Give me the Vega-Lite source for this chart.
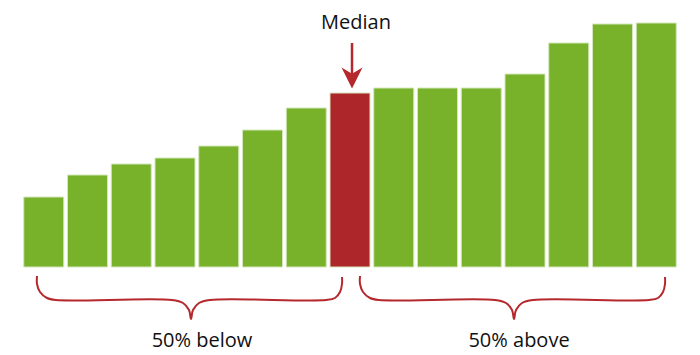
{
  "$schema": "https://vega.github.io/schema/vega-lite/v6.json",
  "width": 700,
  "height": 355,
  "padding": 0,
  "autosize": {"type": "none"},
  "background": "white",
  "config": {"view": {"stroke": null}},
  "datasets": {
    "bars": [
      {"i": 1, "v": 70, "kind": "other"},
      {"i": 2, "v": 92, "kind": "other"},
      {"i": 3, "v": 103, "kind": "other"},
      {"i": 4, "v": 109, "kind": "other"},
      {"i": 5, "v": 121, "kind": "other"},
      {"i": 6, "v": 137, "kind": "other"},
      {"i": 7, "v": 159, "kind": "other"},
      {"i": 8, "v": 174, "kind": "median"},
      {"i": 9, "v": 179, "kind": "other"},
      {"i": 10, "v": 179, "kind": "other"},
      {"i": 11, "v": 179, "kind": "other"},
      {"i": 12, "v": 193, "kind": "other"},
      {"i": 13, "v": 224, "kind": "other"},
      {"i": 14, "v": 243, "kind": "other"},
      {"i": 15, "v": 244, "kind": "other"}
    ],
    "braces": [
      {"b": "below", "o": 1, "x": 0.846, "y": -9},
      {"b": "below", "o": 2, "x": 0.846, "y": -17},
      {"b": "below", "o": 3, "x": 0.914, "y": -25},
      {"b": "below", "o": 4, "x": 1.074, "y": -31},
      {"b": "below", "o": 5, "x": 1.28, "y": -33},
      {"b": "below", "o": 6, "x": 3.931, "y": -33},
      {"b": "below", "o": 7, "x": 4.183, "y": -36},
      {"b": "below", "o": 8, "x": 4.32, "y": -43},
      {"b": "below", "o": 9, "x": 4.366, "y": -52},
      {"b": "below", "o": 10, "x": 4.411, "y": -43},
      {"b": "below", "o": 11, "x": 4.549, "y": -36},
      {"b": "below", "o": 12, "x": 4.8, "y": -33},
      {"b": "below", "o": 13, "x": 7.451, "y": -33},
      {"b": "below", "o": 14, "x": 7.657, "y": -31},
      {"b": "below", "o": 15, "x": 7.771, "y": -25},
      {"b": "below", "o": 16, "x": 7.817, "y": -17},
      {"b": "below", "o": 17, "x": 7.817, "y": -10},
      {"b": "above", "o": 1, "x": 8.229, "y": -9},
      {"b": "above", "o": 2, "x": 8.229, "y": -17},
      {"b": "above", "o": 3, "x": 8.297, "y": -25},
      {"b": "above", "o": 4, "x": 8.457, "y": -31},
      {"b": "above", "o": 5, "x": 8.663, "y": -33},
      {"b": "above", "o": 6, "x": 11.314, "y": -33},
      {"b": "above", "o": 7, "x": 11.566, "y": -36},
      {"b": "above", "o": 8, "x": 11.703, "y": -43},
      {"b": "above", "o": 9, "x": 11.749, "y": -52},
      {"b": "above", "o": 10, "x": 11.794, "y": -43},
      {"b": "above", "o": 11, "x": 11.931, "y": -36},
      {"b": "above", "o": 12, "x": 12.183, "y": -33},
      {"b": "above", "o": 13, "x": 14.834, "y": -33},
      {"b": "above", "o": 14, "x": 15.04, "y": -31},
      {"b": "above", "o": 15, "x": 15.154, "y": -25},
      {"b": "above", "o": 16, "x": 15.2, "y": -17},
      {"b": "above", "o": 17, "x": 15.2, "y": -10}
    ],
    "labels": [
      {"x": 4.617, "y": -80, "t": "50% below"},
      {"x": 11.863, "y": -80, "t": "50% above"},
      {"x": 8.137, "y": 238, "t": "Median"}
    ],
    "arrow": [
      {"x": 8.046, "y": 224, "y2": 193, "head": 189}
    ]
  },
  "layer": [
    {
      "data": {"name": "bars"},
      "mark": {"type": "bar", "orient": "vertical", "size": 40, "stroke": "#d4e6bb", "strokeWidth": 1},
      "encoding": {
        "x": {"field": "i", "type": "quantitative", "scale": {"domain": [0, 16], "nice": false, "zero": false, "padding": 0}, "axis": null},
        "y": {"field": "v", "type": "quantitative", "scale": {"domain": [-88, 267], "nice": false, "zero": false, "padding": 0}, "axis": null},
        "y2": {"datum": 0},
        "color": {"field": "kind", "type": "nominal", "scale": {"domain": ["other", "median"], "range": ["#77b22a", "#ad2629"]}, "legend": null}
      }
    },
    {
      "data": {"name": "braces"},
      "mark": {"type": "line", "interpolate": "catmull-rom", "stroke": "#b5282c", "strokeWidth": 2},
      "encoding": {
        "x": {"field": "x", "type": "quantitative"},
        "y": {"field": "y", "type": "quantitative"},
        "detail": {"field": "b"},
        "order": {"field": "o", "type": "quantitative"}
      }
    },
    {
      "data": {"name": "arrow"},
      "mark": {"type": "rule", "stroke": "#b5282c", "strokeWidth": 2.5},
      "encoding": {
        "x": {"field": "x", "type": "quantitative"},
        "y": {"field": "y", "type": "quantitative"},
        "y2": {"field": "y2"}
      }
    },
    {
      "data": {"name": "arrow"},
      "mark": {"type": "point", "shape": "M-1,-1L0,1L1,-1L0,-0.4Z", "size": 441, "filled": true, "fill": "#b5282c", "opacity": 1, "strokeWidth": 0},
      "encoding": {
        "x": {"field": "x", "type": "quantitative"},
        "y": {"field": "head", "type": "quantitative"}
      }
    },
    {
      "data": {"name": "labels"},
      "mark": {"type": "text", "font": "Open Sans", "fontSize": 20, "fill": "#111111", "align": "center", "baseline": "alphabetic"},
      "encoding": {
        "x": {"field": "x", "type": "quantitative"},
        "y": {"field": "y", "type": "quantitative"},
        "text": {"field": "t"}
      }
    }
  ]
}
